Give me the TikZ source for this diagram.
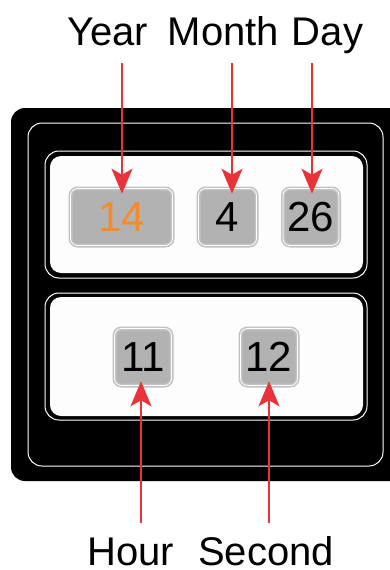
\documentclass[tikz,border=0pt]{standalone}
\usepackage{fontspec}
\setmainfont{Liberation Sans}
\usetikzlibrary{arrows.meta}
\definecolor{arrred}{HTML}{E8333A}
\definecolor{keygray}{HTML}{B2B2B2}
\definecolor{keyrim}{HTML}{C2C2C2}
\definecolor{panelwhite}{HTML}{FDFDFD}
\definecolor{numorange}{HTML}{F68B2C}
\tikzset{
  keybox/.style={draw=keyrim, double=white, double distance=0.8pt, line width=1.6pt,
    fill=keygray, rounded corners=7pt, inner sep=0pt, minimum height=57pt,
    font=\fontsize{42}{42}\selectfont},
  lbl/.style={anchor=base, inner sep=0pt, font=\fontsize{40}{40}\selectfont},
  arr/.style={draw=arrred, line width=1.8pt, -{Stealth[length=25pt,width=21pt,inset=6pt]}},
  rim/.style={draw=white, line width=1pt}
}
\begin{document}
\begin{tikzpicture}[x=1pt,y=-1pt]
\useasboundingbox (0,0) rectangle (390,570);
\fill[white] (0,0) rectangle (390,570);
\begin{scope}
\clip (0,0) rectangle (390,570);
\fill[black, rounded corners=14pt] (11,108) rectangle (404,481);
\end{scope}
\draw[rim, rounded corners=14pt] (28,123) rectangle (383,466);
% top panel
\draw[rim, rounded corners=14pt] (45,151) rectangle (367,278);
\fill[panelwhite, rounded corners=11pt] (50,156) rectangle (363,273);
% bottom panel
\draw[rim, rounded corners=14pt] (45,293) rectangle (367,420);
\fill[panelwhite, rounded corners=11pt] (50,297) rectangle (363,416);
% keys
\node[keybox, minimum width=102pt, text=numorange] (ykey) at (121.5,217) {14};
\node[keybox, minimum width=58pt] (mkey) at (227.5,217) {4};
\node[keybox, minimum width=56pt] (dkey) at (311,217) {26};
\node[keybox, minimum width=57pt] (hkey) at (143,357) {11};
\node[keybox, minimum width=57pt] (skey) at (269,357) {12};
% labels
\node[lbl] (ylbl) at (107.5,45) {Year};
\node[lbl] (mlbl) at (223.5,45) {Month};
\node[lbl] (dlbl) at (327.5,45) {Day};
\node[lbl] (hlbl) at (130.5,565) {Hour};
\node[lbl] (slbl) at (266,565) {Second};
% arrow start points
\coordinate (ys) at (122,63);
\coordinate (ms) at (232,63);
\coordinate (ds) at (312,63);
\coordinate (hs) at (141,523);
\coordinate (ss) at (269,523);
\draw[arr] (ys) -- ([yshift=-6pt]ys |- ykey.north);
\draw[arr] (ms) -- ([yshift=-6pt]ms |- mkey.north);
\draw[arr] (ds) -- ([yshift=-6pt]ds |- dkey.north);
\draw[arr] (hs) -- ([yshift=5pt]hs |- hkey.south);
\draw[arr] (ss) -- ([yshift=5pt]ss |- skey.south);
\end{tikzpicture}
\end{document}
